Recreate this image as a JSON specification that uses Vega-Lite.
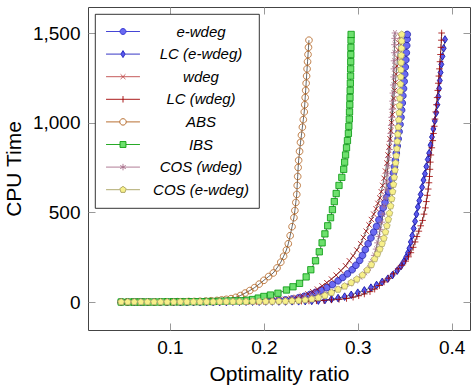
{
"$schema": "https://vega.github.io/schema/vega-lite/v6.json",
"autosize": "none",
"width": 382,
"height": 323,
"padding": {"left": 88, "top": 7, "right": 3, "bottom": 58},
"config": {
  "view": {"stroke": "#444", "strokeWidth": 1},
  "font": "Liberation Sans",
  "legend": {"orient": "top-left", "offset": 7, "padding": 10, "strokeColor": "#000", "strokeWidth": 0.8, "fillColor": "#fff", "cornerRadius": 0, "symbolSize": 29, "symbolStrokeWidth": 0.9, "labelFont": "Liberation Sans", "labelFontStyle": "italic", "labelFontSize": 15, "labelColor": "#000", "labelAlign": "center", "labelOffset": 81, "rowPadding": 6.6, "labelLimit": 300}
},
"data": {"values": [
{"s":"e-wdeg","x":0.048,"y":0},{"s":"e-wdeg","x":0.055,"y":0},{"s":"e-wdeg","x":0.062,"y":0},{"s":"e-wdeg","x":0.069,"y":0},{"s":"e-wdeg","x":0.076,"y":0},{"s":"e-wdeg","x":0.083,"y":0},{"s":"e-wdeg","x":0.090,"y":0},{"s":"e-wdeg","x":0.097,"y":0},{"s":"e-wdeg","x":0.104,"y":1},{"s":"e-wdeg","x":0.111,"y":1},{"s":"e-wdeg","x":0.118,"y":1},{"s":"e-wdeg","x":0.125,"y":1},{"s":"e-wdeg","x":0.132,"y":2},{"s":"e-wdeg","x":0.139,"y":2},{"s":"e-wdeg","x":0.146,"y":2},{"s":"e-wdeg","x":0.153,"y":3},{"s":"e-wdeg","x":0.160,"y":3},{"s":"e-wdeg","x":0.167,"y":4},{"s":"e-wdeg","x":0.174,"y":4},{"s":"e-wdeg","x":0.181,"y":5},{"s":"e-wdeg","x":0.188,"y":6},{"s":"e-wdeg","x":0.195,"y":7},{"s":"e-wdeg","x":0.202,"y":8},{"s":"e-wdeg","x":0.209,"y":9},{"s":"e-wdeg","x":0.216,"y":10},{"s":"e-wdeg","x":0.223,"y":12},{"s":"e-wdeg","x":0.230,"y":17},{"s":"e-wdeg","x":0.237,"y":24},{"s":"e-wdeg","x":0.243,"y":32},{"s":"e-wdeg","x":0.249,"y":42},{"s":"e-wdeg","x":0.255,"y":54},{"s":"e-wdeg","x":0.261,"y":66},{"s":"e-wdeg","x":0.267,"y":80},{"s":"e-wdeg","x":0.273,"y":97},{"s":"e-wdeg","x":0.279,"y":118},{"s":"e-wdeg","x":0.284,"y":137},{"s":"e-wdeg","x":0.289,"y":157},{"s":"e-wdeg","x":0.294,"y":180},{"s":"e-wdeg","x":0.298,"y":205},{"s":"e-wdeg","x":0.302,"y":232},{"s":"e-wdeg","x":0.305,"y":260},{"s":"e-wdeg","x":0.308,"y":292},{"s":"e-wdeg","x":0.311,"y":325},{"s":"e-wdeg","x":0.314,"y":357},{"s":"e-wdeg","x":0.317,"y":390},{"s":"e-wdeg","x":0.320,"y":422},{"s":"e-wdeg","x":0.3225,"y":458},{"s":"e-wdeg","x":0.325,"y":493},{"s":"e-wdeg","x":0.327,"y":525},{"s":"e-wdeg","x":0.329,"y":555},{"s":"e-wdeg","x":0.331,"y":585},{"s":"e-wdeg","x":0.333,"y":615},{"s":"e-wdeg","x":0.335,"y":650},{"s":"e-wdeg","x":0.3365,"y":685},{"s":"e-wdeg","x":0.338,"y":720},{"s":"e-wdeg","x":0.339,"y":755},{"s":"e-wdeg","x":0.340,"y":790},{"s":"e-wdeg","x":0.341,"y":830},{"s":"e-wdeg","x":0.342,"y":870},{"s":"e-wdeg","x":0.343,"y":910},{"s":"e-wdeg","x":0.344,"y":950},{"s":"e-wdeg","x":0.345,"y":990},{"s":"e-wdeg","x":0.346,"y":1030},{"s":"e-wdeg","x":0.3467,"y":1070},{"s":"e-wdeg","x":0.3474,"y":1110},{"s":"e-wdeg","x":0.348,"y":1150},{"s":"e-wdeg","x":0.3487,"y":1190},{"s":"e-wdeg","x":0.3494,"y":1230},{"s":"e-wdeg","x":0.350,"y":1270},{"s":"e-wdeg","x":0.3506,"y":1310},{"s":"e-wdeg","x":0.3512,"y":1350},{"s":"e-wdeg","x":0.3517,"y":1390},{"s":"e-wdeg","x":0.3521,"y":1430},{"s":"e-wdeg","x":0.3525,"y":1465},{"s":"e-wdeg","x":0.3527,"y":1492},
{"s":"LC (e-wdeg)","x":0.048,"y":0},{"s":"LC (e-wdeg)","x":0.055,"y":0},{"s":"LC (e-wdeg)","x":0.062,"y":0},{"s":"LC (e-wdeg)","x":0.069,"y":0},{"s":"LC (e-wdeg)","x":0.076,"y":0},{"s":"LC (e-wdeg)","x":0.083,"y":0},{"s":"LC (e-wdeg)","x":0.090,"y":0},{"s":"LC (e-wdeg)","x":0.097,"y":0},{"s":"LC (e-wdeg)","x":0.104,"y":0},{"s":"LC (e-wdeg)","x":0.111,"y":0},{"s":"LC (e-wdeg)","x":0.118,"y":1},{"s":"LC (e-wdeg)","x":0.125,"y":1},{"s":"LC (e-wdeg)","x":0.132,"y":1},{"s":"LC (e-wdeg)","x":0.139,"y":1},{"s":"LC (e-wdeg)","x":0.146,"y":1},{"s":"LC (e-wdeg)","x":0.153,"y":1},{"s":"LC (e-wdeg)","x":0.160,"y":1},{"s":"LC (e-wdeg)","x":0.167,"y":2},{"s":"LC (e-wdeg)","x":0.174,"y":2},{"s":"LC (e-wdeg)","x":0.181,"y":2},{"s":"LC (e-wdeg)","x":0.188,"y":2},{"s":"LC (e-wdeg)","x":0.195,"y":2},{"s":"LC (e-wdeg)","x":0.202,"y":3},{"s":"LC (e-wdeg)","x":0.209,"y":3},{"s":"LC (e-wdeg)","x":0.216,"y":3},{"s":"LC (e-wdeg)","x":0.223,"y":3},{"s":"LC (e-wdeg)","x":0.230,"y":4},{"s":"LC (e-wdeg)","x":0.237,"y":4},{"s":"LC (e-wdeg)","x":0.244,"y":5},{"s":"LC (e-wdeg)","x":0.251,"y":6},{"s":"LC (e-wdeg)","x":0.258,"y":8},{"s":"LC (e-wdeg)","x":0.265,"y":11},{"s":"LC (e-wdeg)","x":0.272,"y":16},{"s":"LC (e-wdeg)","x":0.279,"y":22},{"s":"LC (e-wdeg)","x":0.286,"y":30},{"s":"LC (e-wdeg)","x":0.293,"y":40},{"s":"LC (e-wdeg)","x":0.300,"y":52},{"s":"LC (e-wdeg)","x":0.307,"y":65},{"s":"LC (e-wdeg)","x":0.314,"y":80},{"s":"LC (e-wdeg)","x":0.320,"y":95},{"s":"LC (e-wdeg)","x":0.326,"y":112},{"s":"LC (e-wdeg)","x":0.332,"y":130},{"s":"LC (e-wdeg)","x":0.337,"y":150},{"s":"LC (e-wdeg)","x":0.342,"y":175},{"s":"LC (e-wdeg)","x":0.346,"y":200},{"s":"LC (e-wdeg)","x":0.349,"y":225},{"s":"LC (e-wdeg)","x":0.3515,"y":250},{"s":"LC (e-wdeg)","x":0.3535,"y":275},{"s":"LC (e-wdeg)","x":0.355,"y":300},{"s":"LC (e-wdeg)","x":0.3565,"y":335},{"s":"LC (e-wdeg)","x":0.358,"y":370},{"s":"LC (e-wdeg)","x":0.3595,"y":410},{"s":"LC (e-wdeg)","x":0.361,"y":450},{"s":"LC (e-wdeg)","x":0.3625,"y":490},{"s":"LC (e-wdeg)","x":0.364,"y":530},{"s":"LC (e-wdeg)","x":0.3655,"y":565},{"s":"LC (e-wdeg)","x":0.367,"y":600},{"s":"LC (e-wdeg)","x":0.3685,"y":640},{"s":"LC (e-wdeg)","x":0.370,"y":680},{"s":"LC (e-wdeg)","x":0.3715,"y":715},{"s":"LC (e-wdeg)","x":0.373,"y":755},{"s":"LC (e-wdeg)","x":0.3745,"y":795},{"s":"LC (e-wdeg)","x":0.376,"y":830},{"s":"LC (e-wdeg)","x":0.3775,"y":875},{"s":"LC (e-wdeg)","x":0.379,"y":920},{"s":"LC (e-wdeg)","x":0.3805,"y":965},{"s":"LC (e-wdeg)","x":0.382,"y":1010},{"s":"LC (e-wdeg)","x":0.3835,"y":1055},{"s":"LC (e-wdeg)","x":0.3848,"y":1100},{"s":"LC (e-wdeg)","x":0.3858,"y":1145},{"s":"LC (e-wdeg)","x":0.3866,"y":1190},{"s":"LC (e-wdeg)","x":0.3874,"y":1235},{"s":"LC (e-wdeg)","x":0.3882,"y":1280},{"s":"LC (e-wdeg)","x":0.389,"y":1325},{"s":"LC (e-wdeg)","x":0.3902,"y":1370},{"s":"LC (e-wdeg)","x":0.3915,"y":1415},{"s":"LC (e-wdeg)","x":0.3929,"y":1464},
{"s":"wdeg","x":0.048,"y":0},{"s":"wdeg","x":0.055,"y":0},{"s":"wdeg","x":0.062,"y":0},{"s":"wdeg","x":0.069,"y":0},{"s":"wdeg","x":0.076,"y":0},{"s":"wdeg","x":0.083,"y":0},{"s":"wdeg","x":0.090,"y":0},{"s":"wdeg","x":0.097,"y":1},{"s":"wdeg","x":0.104,"y":1},{"s":"wdeg","x":0.111,"y":1},{"s":"wdeg","x":0.118,"y":1},{"s":"wdeg","x":0.125,"y":2},{"s":"wdeg","x":0.132,"y":2},{"s":"wdeg","x":0.139,"y":2},{"s":"wdeg","x":0.146,"y":3},{"s":"wdeg","x":0.153,"y":3},{"s":"wdeg","x":0.160,"y":4},{"s":"wdeg","x":0.167,"y":4},{"s":"wdeg","x":0.174,"y":5},{"s":"wdeg","x":0.181,"y":5},{"s":"wdeg","x":0.188,"y":6},{"s":"wdeg","x":0.195,"y":7},{"s":"wdeg","x":0.202,"y":8},{"s":"wdeg","x":0.209,"y":10},{"s":"wdeg","x":0.216,"y":12},{"s":"wdeg","x":0.223,"y":15},{"s":"wdeg","x":0.229,"y":20},{"s":"wdeg","x":0.235,"y":26},{"s":"wdeg","x":0.241,"y":34},{"s":"wdeg","x":0.247,"y":45},{"s":"wdeg","x":0.252,"y":58},{"s":"wdeg","x":0.257,"y":72},{"s":"wdeg","x":0.262,"y":90},{"s":"wdeg","x":0.267,"y":108},{"s":"wdeg","x":0.272,"y":128},{"s":"wdeg","x":0.277,"y":150},{"s":"wdeg","x":0.282,"y":175},{"s":"wdeg","x":0.287,"y":202},{"s":"wdeg","x":0.291,"y":230},{"s":"wdeg","x":0.295,"y":258},{"s":"wdeg","x":0.299,"y":290},{"s":"wdeg","x":0.303,"y":325},{"s":"wdeg","x":0.306,"y":360},{"s":"wdeg","x":0.309,"y":395},{"s":"wdeg","x":0.312,"y":430},{"s":"wdeg","x":0.3145,"y":460},{"s":"wdeg","x":0.317,"y":490},{"s":"wdeg","x":0.3195,"y":520},{"s":"wdeg","x":0.3215,"y":550},{"s":"wdeg","x":0.3235,"y":580},{"s":"wdeg","x":0.325,"y":615},{"s":"wdeg","x":0.3265,"y":650},{"s":"wdeg","x":0.328,"y":690},{"s":"wdeg","x":0.3295,"y":730},{"s":"wdeg","x":0.331,"y":775},{"s":"wdeg","x":0.3322,"y":820},{"s":"wdeg","x":0.3333,"y":865},{"s":"wdeg","x":0.3343,"y":910},{"s":"wdeg","x":0.3352,"y":955},{"s":"wdeg","x":0.336,"y":1000},{"s":"wdeg","x":0.3368,"y":1045},{"s":"wdeg","x":0.3376,"y":1090},{"s":"wdeg","x":0.3384,"y":1135},{"s":"wdeg","x":0.3392,"y":1180},{"s":"wdeg","x":0.34,"y":1225},{"s":"wdeg","x":0.3408,"y":1270},{"s":"wdeg","x":0.3416,"y":1315},{"s":"wdeg","x":0.3424,"y":1360},{"s":"wdeg","x":0.3432,"y":1405},{"s":"wdeg","x":0.344,"y":1445},{"s":"wdeg","x":0.345,"y":1480},
{"s":"LC (wdeg)","x":0.048,"y":0},{"s":"LC (wdeg)","x":0.056,"y":0},{"s":"LC (wdeg)","x":0.064,"y":0},{"s":"LC (wdeg)","x":0.072,"y":0},{"s":"LC (wdeg)","x":0.080,"y":0},{"s":"LC (wdeg)","x":0.088,"y":0},{"s":"LC (wdeg)","x":0.096,"y":0},{"s":"LC (wdeg)","x":0.104,"y":0},{"s":"LC (wdeg)","x":0.112,"y":1},{"s":"LC (wdeg)","x":0.120,"y":1},{"s":"LC (wdeg)","x":0.128,"y":1},{"s":"LC (wdeg)","x":0.136,"y":1},{"s":"LC (wdeg)","x":0.144,"y":1},{"s":"LC (wdeg)","x":0.152,"y":1},{"s":"LC (wdeg)","x":0.160,"y":2},{"s":"LC (wdeg)","x":0.168,"y":2},{"s":"LC (wdeg)","x":0.176,"y":2},{"s":"LC (wdeg)","x":0.184,"y":2},{"s":"LC (wdeg)","x":0.192,"y":3},{"s":"LC (wdeg)","x":0.200,"y":3},{"s":"LC (wdeg)","x":0.208,"y":3},{"s":"LC (wdeg)","x":0.216,"y":4},{"s":"LC (wdeg)","x":0.224,"y":4},{"s":"LC (wdeg)","x":0.232,"y":5},{"s":"LC (wdeg)","x":0.240,"y":5},{"s":"LC (wdeg)","x":0.248,"y":6},{"s":"LC (wdeg)","x":0.256,"y":7},{"s":"LC (wdeg)","x":0.264,"y":9},{"s":"LC (wdeg)","x":0.272,"y":12},{"s":"LC (wdeg)","x":0.280,"y":15},{"s":"LC (wdeg)","x":0.288,"y":20},{"s":"LC (wdeg)","x":0.295,"y":27},{"s":"LC (wdeg)","x":0.301,"y":35},{"s":"LC (wdeg)","x":0.307,"y":45},{"s":"LC (wdeg)","x":0.313,"y":58},{"s":"LC (wdeg)","x":0.318,"y":72},{"s":"LC (wdeg)","x":0.323,"y":92},{"s":"LC (wdeg)","x":0.328,"y":112},{"s":"LC (wdeg)","x":0.333,"y":133},{"s":"LC (wdeg)","x":0.338,"y":157},{"s":"LC (wdeg)","x":0.343,"y":185},{"s":"LC (wdeg)","x":0.347,"y":205},{"s":"LC (wdeg)","x":0.351,"y":228},{"s":"LC (wdeg)","x":0.354,"y":252},{"s":"LC (wdeg)","x":0.3565,"y":275},{"s":"LC (wdeg)","x":0.359,"y":305},{"s":"LC (wdeg)","x":0.361,"y":335},{"s":"LC (wdeg)","x":0.363,"y":365},{"s":"LC (wdeg)","x":0.365,"y":395},{"s":"LC (wdeg)","x":0.367,"y":425},{"s":"LC (wdeg)","x":0.369,"y":455},{"s":"LC (wdeg)","x":0.3705,"y":490},{"s":"LC (wdeg)","x":0.372,"y":525},{"s":"LC (wdeg)","x":0.373,"y":560},{"s":"LC (wdeg)","x":0.374,"y":595},{"s":"LC (wdeg)","x":0.375,"y":630},{"s":"LC (wdeg)","x":0.3758,"y":665},{"s":"LC (wdeg)","x":0.3764,"y":700},{"s":"LC (wdeg)","x":0.3768,"y":740},{"s":"LC (wdeg)","x":0.3772,"y":780},{"s":"LC (wdeg)","x":0.3778,"y":820},{"s":"LC (wdeg)","x":0.3788,"y":860},{"s":"LC (wdeg)","x":0.3798,"y":900},{"s":"LC (wdeg)","x":0.3806,"y":940},{"s":"LC (wdeg)","x":0.3814,"y":980},{"s":"LC (wdeg)","x":0.3822,"y":1020},{"s":"LC (wdeg)","x":0.383,"y":1060},{"s":"LC (wdeg)","x":0.3838,"y":1100},{"s":"LC (wdeg)","x":0.3845,"y":1140},{"s":"LC (wdeg)","x":0.3852,"y":1180},{"s":"LC (wdeg)","x":0.3858,"y":1220},{"s":"LC (wdeg)","x":0.3864,"y":1260},{"s":"LC (wdeg)","x":0.387,"y":1300},{"s":"LC (wdeg)","x":0.3876,"y":1340},{"s":"LC (wdeg)","x":0.3881,"y":1380},{"s":"LC (wdeg)","x":0.3886,"y":1420},{"s":"LC (wdeg)","x":0.389,"y":1460},{"s":"LC (wdeg)","x":0.3893,"y":1500},
{"s":"ABS","x":0.048,"y":0},{"s":"ABS","x":0.054,"y":0},{"s":"ABS","x":0.060,"y":0},{"s":"ABS","x":0.066,"y":0},{"s":"ABS","x":0.072,"y":0},{"s":"ABS","x":0.078,"y":0},{"s":"ABS","x":0.084,"y":0},{"s":"ABS","x":0.090,"y":1},{"s":"ABS","x":0.096,"y":1},{"s":"ABS","x":0.102,"y":1},{"s":"ABS","x":0.108,"y":2},{"s":"ABS","x":0.114,"y":2},{"s":"ABS","x":0.120,"y":3},{"s":"ABS","x":0.126,"y":3},{"s":"ABS","x":0.132,"y":4},{"s":"ABS","x":0.138,"y":5},{"s":"ABS","x":0.144,"y":7},{"s":"ABS","x":0.150,"y":9},{"s":"ABS","x":0.155,"y":12},{"s":"ABS","x":0.160,"y":15},{"s":"ABS","x":0.165,"y":19},{"s":"ABS","x":0.170,"y":26},{"s":"ABS","x":0.175,"y":36},{"s":"ABS","x":0.180,"y":50},{"s":"ABS","x":0.185,"y":64},{"s":"ABS","x":0.190,"y":80},{"s":"ABS","x":0.195,"y":100},{"s":"ABS","x":0.200,"y":121},{"s":"ABS","x":0.205,"y":142},{"s":"ABS","x":0.210,"y":162},{"s":"ABS","x":0.214,"y":190},{"s":"ABS","x":0.218,"y":222},{"s":"ABS","x":0.221,"y":255},{"s":"ABS","x":0.224,"y":290},{"s":"ABS","x":0.226,"y":325},{"s":"ABS","x":0.228,"y":370},{"s":"ABS","x":0.230,"y":420},{"s":"ABS","x":0.232,"y":470},{"s":"ABS","x":0.233,"y":510},{"s":"ABS","x":0.234,"y":555},{"s":"ABS","x":0.235,"y":600},{"s":"ABS","x":0.2355,"y":650},{"s":"ABS","x":0.236,"y":700},{"s":"ABS","x":0.2365,"y":750},{"s":"ABS","x":0.237,"y":790},{"s":"ABS","x":0.238,"y":840},{"s":"ABS","x":0.239,"y":890},{"s":"ABS","x":0.240,"y":930},{"s":"ABS","x":0.241,"y":975},{"s":"ABS","x":0.242,"y":1017},{"s":"ABS","x":0.243,"y":1060},{"s":"ABS","x":0.2435,"y":1100},{"s":"ABS","x":0.244,"y":1140},{"s":"ABS","x":0.2445,"y":1180},{"s":"ABS","x":0.245,"y":1220},{"s":"ABS","x":0.2455,"y":1260},{"s":"ABS","x":0.246,"y":1300},{"s":"ABS","x":0.2465,"y":1340},{"s":"ABS","x":0.247,"y":1380},{"s":"ABS","x":0.2475,"y":1420},{"s":"ABS","x":0.248,"y":1460},
{"s":"IBS","x":0.048,"y":0},{"s":"IBS","x":0.056,"y":0},{"s":"IBS","x":0.062,"y":0},{"s":"IBS","x":0.068,"y":0},{"s":"IBS","x":0.074,"y":0},{"s":"IBS","x":0.080,"y":0},{"s":"IBS","x":0.086,"y":0},{"s":"IBS","x":0.092,"y":1},{"s":"IBS","x":0.098,"y":1},{"s":"IBS","x":0.104,"y":1},{"s":"IBS","x":0.110,"y":1},{"s":"IBS","x":0.116,"y":1},{"s":"IBS","x":0.122,"y":2},{"s":"IBS","x":0.128,"y":2},{"s":"IBS","x":0.134,"y":2},{"s":"IBS","x":0.140,"y":3},{"s":"IBS","x":0.146,"y":3},{"s":"IBS","x":0.152,"y":4},{"s":"IBS","x":0.158,"y":5},{"s":"IBS","x":0.164,"y":6},{"s":"IBS","x":0.170,"y":6},{"s":"IBS","x":0.176,"y":7},{"s":"IBS","x":0.182,"y":10},{"s":"IBS","x":0.188,"y":14},{"s":"IBS","x":0.194,"y":22},{"s":"IBS","x":0.200,"y":31},{"s":"IBS","x":0.207,"y":39},{"s":"IBS","x":0.215,"y":49},{"s":"IBS","x":0.224,"y":67},{"s":"IBS","x":0.231,"y":85},{"s":"IBS","x":0.238,"y":104},{"s":"IBS","x":0.245,"y":140},{"s":"IBS","x":0.250,"y":180},{"s":"IBS","x":0.255,"y":230},{"s":"IBS","x":0.259,"y":280},{"s":"IBS","x":0.262,"y":330},{"s":"IBS","x":0.265,"y":380},{"s":"IBS","x":0.268,"y":425},{"s":"IBS","x":0.271,"y":470},{"s":"IBS","x":0.273,"y":515},{"s":"IBS","x":0.275,"y":560},{"s":"IBS","x":0.277,"y":605},{"s":"IBS","x":0.280,"y":650},{"s":"IBS","x":0.283,"y":695},{"s":"IBS","x":0.285,"y":740},{"s":"IBS","x":0.286,"y":780},{"s":"IBS","x":0.287,"y":820},{"s":"IBS","x":0.288,"y":860},{"s":"IBS","x":0.289,"y":900},{"s":"IBS","x":0.290,"y":940},{"s":"IBS","x":0.2905,"y":980},{"s":"IBS","x":0.291,"y":1020},{"s":"IBS","x":0.2912,"y":1060},{"s":"IBS","x":0.2915,"y":1100},{"s":"IBS","x":0.2917,"y":1140},{"s":"IBS","x":0.2919,"y":1180},{"s":"IBS","x":0.2921,"y":1220},{"s":"IBS","x":0.2923,"y":1260},{"s":"IBS","x":0.2924,"y":1300},{"s":"IBS","x":0.2925,"y":1340},{"s":"IBS","x":0.2926,"y":1380},{"s":"IBS","x":0.2927,"y":1420},{"s":"IBS","x":0.2928,"y":1460},{"s":"IBS","x":0.2929,"y":1492},
{"s":"COS (wdeg)","x":0.048,"y":0},{"s":"COS (wdeg)","x":0.055,"y":0},{"s":"COS (wdeg)","x":0.062,"y":0},{"s":"COS (wdeg)","x":0.069,"y":0},{"s":"COS (wdeg)","x":0.076,"y":0},{"s":"COS (wdeg)","x":0.083,"y":0},{"s":"COS (wdeg)","x":0.090,"y":0},{"s":"COS (wdeg)","x":0.097,"y":0},{"s":"COS (wdeg)","x":0.104,"y":1},{"s":"COS (wdeg)","x":0.111,"y":1},{"s":"COS (wdeg)","x":0.118,"y":1},{"s":"COS (wdeg)","x":0.125,"y":1},{"s":"COS (wdeg)","x":0.132,"y":2},{"s":"COS (wdeg)","x":0.139,"y":2},{"s":"COS (wdeg)","x":0.146,"y":2},{"s":"COS (wdeg)","x":0.153,"y":3},{"s":"COS (wdeg)","x":0.160,"y":3},{"s":"COS (wdeg)","x":0.167,"y":4},{"s":"COS (wdeg)","x":0.174,"y":4},{"s":"COS (wdeg)","x":0.181,"y":5},{"s":"COS (wdeg)","x":0.188,"y":6},{"s":"COS (wdeg)","x":0.195,"y":7},{"s":"COS (wdeg)","x":0.202,"y":8},{"s":"COS (wdeg)","x":0.209,"y":9},{"s":"COS (wdeg)","x":0.216,"y":11},{"s":"COS (wdeg)","x":0.223,"y":13},{"s":"COS (wdeg)","x":0.230,"y":16},{"s":"COS (wdeg)","x":0.237,"y":20},{"s":"COS (wdeg)","x":0.244,"y":26},{"s":"COS (wdeg)","x":0.251,"y":32},{"s":"COS (wdeg)","x":0.258,"y":40},{"s":"COS (wdeg)","x":0.265,"y":48},{"s":"COS (wdeg)","x":0.272,"y":58},{"s":"COS (wdeg)","x":0.279,"y":72},{"s":"COS (wdeg)","x":0.286,"y":87},{"s":"COS (wdeg)","x":0.292,"y":102},{"s":"COS (wdeg)","x":0.298,"y":120},{"s":"COS (wdeg)","x":0.303,"y":140},{"s":"COS (wdeg)","x":0.308,"y":165},{"s":"COS (wdeg)","x":0.312,"y":190},{"s":"COS (wdeg)","x":0.315,"y":225},{"s":"COS (wdeg)","x":0.3175,"y":260},{"s":"COS (wdeg)","x":0.3195,"y":295},{"s":"COS (wdeg)","x":0.321,"y":330},{"s":"COS (wdeg)","x":0.3225,"y":365},{"s":"COS (wdeg)","x":0.324,"y":405},{"s":"COS (wdeg)","x":0.3255,"y":445},{"s":"COS (wdeg)","x":0.327,"y":490},{"s":"COS (wdeg)","x":0.3282,"y":535},{"s":"COS (wdeg)","x":0.3292,"y":580},{"s":"COS (wdeg)","x":0.33,"y":625},{"s":"COS (wdeg)","x":0.3307,"y":670},{"s":"COS (wdeg)","x":0.3314,"y":715},{"s":"COS (wdeg)","x":0.3322,"y":760},{"s":"COS (wdeg)","x":0.333,"y":805},{"s":"COS (wdeg)","x":0.3338,"y":850},{"s":"COS (wdeg)","x":0.3345,"y":895},{"s":"COS (wdeg)","x":0.3351,"y":940},{"s":"COS (wdeg)","x":0.3356,"y":985},{"s":"COS (wdeg)","x":0.3361,"y":1030},{"s":"COS (wdeg)","x":0.3366,"y":1075},{"s":"COS (wdeg)","x":0.337,"y":1120},{"s":"COS (wdeg)","x":0.3374,"y":1165},{"s":"COS (wdeg)","x":0.3378,"y":1210},{"s":"COS (wdeg)","x":0.3381,"y":1255},{"s":"COS (wdeg)","x":0.3384,"y":1300},{"s":"COS (wdeg)","x":0.3386,"y":1345},{"s":"COS (wdeg)","x":0.3388,"y":1390},{"s":"COS (wdeg)","x":0.3391,"y":1435},{"s":"COS (wdeg)","x":0.3393,"y":1470},{"s":"COS (wdeg)","x":0.3396,"y":1500},
{"s":"COS (e-wdeg)","x":0.048,"y":0},{"s":"COS (e-wdeg)","x":0.055,"y":0},{"s":"COS (e-wdeg)","x":0.062,"y":0},{"s":"COS (e-wdeg)","x":0.069,"y":0},{"s":"COS (e-wdeg)","x":0.076,"y":0},{"s":"COS (e-wdeg)","x":0.083,"y":0},{"s":"COS (e-wdeg)","x":0.090,"y":0},{"s":"COS (e-wdeg)","x":0.097,"y":0},{"s":"COS (e-wdeg)","x":0.104,"y":0},{"s":"COS (e-wdeg)","x":0.111,"y":1},{"s":"COS (e-wdeg)","x":0.118,"y":1},{"s":"COS (e-wdeg)","x":0.125,"y":1},{"s":"COS (e-wdeg)","x":0.132,"y":1},{"s":"COS (e-wdeg)","x":0.139,"y":1},{"s":"COS (e-wdeg)","x":0.146,"y":1},{"s":"COS (e-wdeg)","x":0.153,"y":2},{"s":"COS (e-wdeg)","x":0.160,"y":2},{"s":"COS (e-wdeg)","x":0.167,"y":2},{"s":"COS (e-wdeg)","x":0.174,"y":2},{"s":"COS (e-wdeg)","x":0.181,"y":2},{"s":"COS (e-wdeg)","x":0.188,"y":3},{"s":"COS (e-wdeg)","x":0.195,"y":3},{"s":"COS (e-wdeg)","x":0.202,"y":3},{"s":"COS (e-wdeg)","x":0.209,"y":3},{"s":"COS (e-wdeg)","x":0.216,"y":4},{"s":"COS (e-wdeg)","x":0.223,"y":4},{"s":"COS (e-wdeg)","x":0.230,"y":6},{"s":"COS (e-wdeg)","x":0.237,"y":8},{"s":"COS (e-wdeg)","x":0.244,"y":11},{"s":"COS (e-wdeg)","x":0.251,"y":16},{"s":"COS (e-wdeg)","x":0.258,"y":24},{"s":"COS (e-wdeg)","x":0.265,"y":36},{"s":"COS (e-wdeg)","x":0.272,"y":52},{"s":"COS (e-wdeg)","x":0.279,"y":70},{"s":"COS (e-wdeg)","x":0.286,"y":88},{"s":"COS (e-wdeg)","x":0.293,"y":108},{"s":"COS (e-wdeg)","x":0.299,"y":127},{"s":"COS (e-wdeg)","x":0.305,"y":150},{"s":"COS (e-wdeg)","x":0.31,"y":178},{"s":"COS (e-wdeg)","x":0.3145,"y":208},{"s":"COS (e-wdeg)","x":0.318,"y":240},{"s":"COS (e-wdeg)","x":0.321,"y":268},{"s":"COS (e-wdeg)","x":0.3235,"y":295},{"s":"COS (e-wdeg)","x":0.3258,"y":325},{"s":"COS (e-wdeg)","x":0.3278,"y":355},{"s":"COS (e-wdeg)","x":0.3295,"y":390},{"s":"COS (e-wdeg)","x":0.331,"y":425},{"s":"COS (e-wdeg)","x":0.3325,"y":460},{"s":"COS (e-wdeg)","x":0.3338,"y":495},{"s":"COS (e-wdeg)","x":0.335,"y":535},{"s":"COS (e-wdeg)","x":0.3361,"y":575},{"s":"COS (e-wdeg)","x":0.3371,"y":615},{"s":"COS (e-wdeg)","x":0.338,"y":655},{"s":"COS (e-wdeg)","x":0.3388,"y":695},{"s":"COS (e-wdeg)","x":0.3396,"y":735},{"s":"COS (e-wdeg)","x":0.3403,"y":775},{"s":"COS (e-wdeg)","x":0.341,"y":815},{"s":"COS (e-wdeg)","x":0.3416,"y":855},{"s":"COS (e-wdeg)","x":0.3421,"y":895},{"s":"COS (e-wdeg)","x":0.3426,"y":935},{"s":"COS (e-wdeg)","x":0.3431,"y":975},{"s":"COS (e-wdeg)","x":0.3436,"y":1015},{"s":"COS (e-wdeg)","x":0.344,"y":1055},{"s":"COS (e-wdeg)","x":0.3444,"y":1095},{"s":"COS (e-wdeg)","x":0.3448,"y":1135},{"s":"COS (e-wdeg)","x":0.3451,"y":1175},{"s":"COS (e-wdeg)","x":0.3454,"y":1215},{"s":"COS (e-wdeg)","x":0.3457,"y":1255},{"s":"COS (e-wdeg)","x":0.3459,"y":1295},{"s":"COS (e-wdeg)","x":0.3461,"y":1335},{"s":"COS (e-wdeg)","x":0.3463,"y":1375},{"s":"COS (e-wdeg)","x":0.3465,"y":1415},{"s":"COS (e-wdeg)","x":0.3467,"y":1455},{"s":"COS (e-wdeg)","x":0.3468,"y":1492}
]},
"layer": [
  {
    "mark": {"type": "line", "color": "#000", "strokeWidth": 0.6},
    "encoding": {
      "x": {"field": "x", "type": "quantitative", "scale": {"domain": [0.0127, 0.4195], "nice": false, "zero": false},
        "axis": {"orient": "bottom", "values": [0.1, 0.2, 0.3, 0.4], "format": ".1f", "title": "Optimality ratio", "domain": false, "grid": false, "tickSize": -7, "tickColor": "#999", "tickWidth": 1, "labelPadding": 15, "labelFontSize": 19, "labelFont": "Liberation Sans", "labelColor": "#000", "titleFont": "Liberation Sans", "titleFontSize": 21, "titleFontWeight": "normal", "titleColor": "#000", "titlePadding": 6}},
      "y": {"field": "y", "type": "quantitative", "scale": {"domain": [-156, 1645], "nice": false, "zero": false},
        "axis": {"orient": "left", "values": [0, 500, 1000, 1500], "format": ",d", "title": "CPU Time", "domain": false, "grid": false, "tickSize": -7, "tickColor": "#999", "tickWidth": 1, "labelPadding": 15, "labelFontSize": 19, "labelFont": "Liberation Sans", "labelColor": "#000", "titleFont": "Liberation Sans", "titleFontSize": 21, "titleFontWeight": "normal", "titleColor": "#000", "titlePadding": 8}},
      "detail": {"field": "s", "type": "nominal"}
    }
  },
  {
    "mark": {"type": "point", "size": 44, "strokeWidth": 0.8, "opacity": 1},
    "encoding": {
      "x": {"field": "x", "type": "quantitative", "axis": {"orient": "top", "values": [0.1, 0.2, 0.3, 0.4], "labels": false, "title": null, "domain": false, "grid": false, "tickSize": -7, "tickColor": "#999", "tickWidth": 1}},
      "y": {"field": "y", "type": "quantitative", "axis": {"orient": "right", "values": [0, 500, 1000, 1500], "labels": false, "title": null, "domain": false, "grid": false, "tickSize": -7, "tickColor": "#999", "tickWidth": 1}},
      "shape": {"field": "s", "type": "nominal", "legend": null, "scale": {"domain": ["e-wdeg", "LC (e-wdeg)", "wdeg", "LC (wdeg)", "ABS", "IBS", "COS (wdeg)", "COS (e-wdeg)"], "range": ["M1,0A1,1,0,1,1,-1,0A1,1,0,1,1,1,0Z", "M0,-1.15L0.75,0L0,1.15L-0.75,0Z", "M-0.8,-0.8L0.8,0.8M-0.8,0.8L0.8,-0.8", "M-1,0L1,0M0,-1L0,1", "M1,0A1,1,0,1,1,-1,0A1,1,0,1,1,1,0Z", "M-0.95,-0.95L0.95,-0.95L0.95,0.95L-0.95,0.95Z", "M-1,0L1,0M-0.5,-0.87L0.5,0.87M-0.5,0.87L0.5,-0.87", "M0,-1.05L1,-0.32L0.62,0.85L-0.62,0.85L-1,-0.32Z"]}},
      "fill": {"field": "s", "type": "nominal", "legend": null, "scale": {"domain": ["e-wdeg", "LC (e-wdeg)", "wdeg", "LC (wdeg)", "ABS", "IBS", "COS (wdeg)", "COS (e-wdeg)"], "range": ["#6a6af2", "#5a5aee", "transparent", "transparent", "transparent", "#6ee06e", "transparent", "#f7f08a"]}},
      "stroke": {"field": "s", "type": "nominal", "legend": null, "scale": {"domain": ["e-wdeg", "LC (e-wdeg)", "wdeg", "LC (wdeg)", "ABS", "IBS", "COS (wdeg)", "COS (e-wdeg)"], "range": ["#1f1fa8", "#0a0aa0", "#a00000", "#a00000", "#b0601c", "#00950a", "#a86e8a", "#b0a868"]}}
    }
  },
  {
    "transform": [{"filter": "false"}],
    "mark": {"type": "point", "size": 29, "strokeWidth": 0.9, "opacity": 1},
    "encoding": {
      "shape": {"field": "s", "type": "nominal", "legend": {"title": null}, "scale": {"domain": ["e-wdeg", "LC (e-wdeg)", "wdeg", "LC (wdeg)", "ABS", "IBS", "COS (wdeg)", "COS (e-wdeg)"], "range": ["M-2.4,0L2.8,0M5,0L10.2,0M5,0A1.1,1.1,0,1,1,2.8,0A1.1,1.1,0,1,1,5,0Z", "M-2.4,0L3.1,0M4.7,0L10.2,0M3.9,-1.3L4.7,0L3.9,1.3L3.1,0Z", "M-2.4,0L10.2,0M3,-0.9L4.8,0.9M3,0.9L4.8,-0.9", "M-2.4,0L10.2,0M3.9,-1.2L3.9,1.2", "M-2.4,0L2.7,0M5.1,0L10.2,0M5.1,0A1.2,1.2,0,1,1,2.7,0A1.2,1.2,0,1,1,5.1,0Z", "M-2.4,0L2.8,0M5,0L10.2,0M2.8,-1.1L5,-1.1L5,1.1L2.8,1.1Z", "M-2.4,0L10.2,0M3.9,-1.2L3.9,1.2M2.86,-0.6L4.94,0.6M2.86,0.6L4.94,-0.6", "M-2.4,0L2.7,0M5.1,0L10.2,0M3.9,-1.25L5.1,-0.37L4.64,1L3.16,1L2.7,-0.37Z"]}},
      "fill": {"field": "s", "type": "nominal", "legend": {"title": null}, "scale": {"domain": ["e-wdeg", "LC (e-wdeg)", "wdeg", "LC (wdeg)", "ABS", "IBS", "COS (wdeg)", "COS (e-wdeg)"], "range": ["#6a6af2", "#5a5aee", "transparent", "transparent", "#ffffff", "#6ee06e", "transparent", "#f7f08a"]}},
      "stroke": {"field": "s", "type": "nominal", "legend": {"title": null}, "scale": {"domain": ["e-wdeg", "LC (e-wdeg)", "wdeg", "LC (wdeg)", "ABS", "IBS", "COS (wdeg)", "COS (e-wdeg)"], "range": ["#3030d0", "#2020c0", "#c04a4a", "#a00000", "#b0601c", "#10a010", "#a86e8a", "#a8a060"]}}
    }
  }
],
"resolve": {"scale": {"shape": "independent", "fill": "independent", "stroke": "independent"}, "axis": {"x": "independent", "y": "independent"}}
}
